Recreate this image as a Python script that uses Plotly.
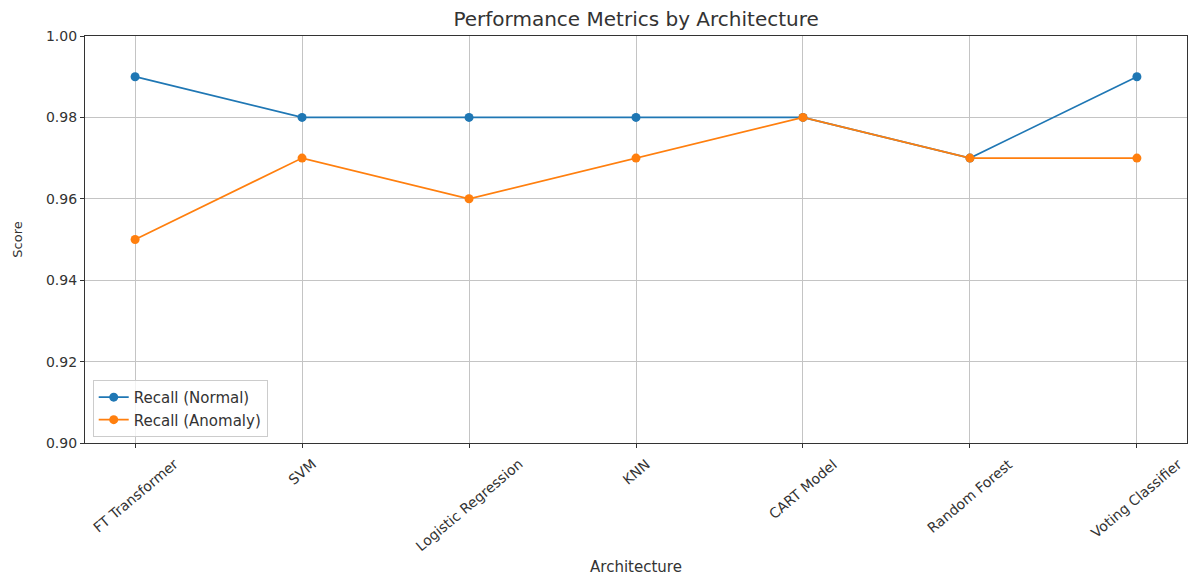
import plotly.graph_objects as go

architectures = ["FT Transformer", "SVM", "Logistic Regression", "KNN",
                 "CART Model", "Random Forest", "Voting Classifier"]
recall_normal = [0.99, 0.98, 0.98, 0.98, 0.98, 0.97, 0.99]
recall_anomaly = [0.95, 0.97, 0.96, 0.97, 0.98, 0.97, 0.97]
y_ticks = [0.90, 0.92, 0.94, 0.96, 0.98, 1.00]

xs = list(range(len(architectures)))
fig = go.Figure()
fig.add_trace(go.Scatter(x=xs, y=recall_normal, mode="lines+markers",
                         name="Recall (Normal)",
                         line=dict(color="#1f77b4", width=1.7),
                         marker=dict(color="#1f77b4", size=9)))
fig.add_trace(go.Scatter(x=xs, y=recall_anomaly, mode="lines+markers",
                         name="Recall (Anomaly)",
                         line=dict(color="#ff7f0e", width=1.7),
                         marker=dict(color="#ff7f0e", size=9)))

# rotated category labels centred under each tick (matplotlib style)
annotations = []
for xi, lab in zip(xs, architectures):
    annotations.append(dict(x=xi, xref="x", y=0, yref="paper", text=lab,
                            showarrow=False, textangle=-40, xanchor="center",
                            yanchor="top", yshift=-10,
                            font=dict(size=14, color="#333333")))

fig.update_layout(
    width=1189, height=576,
    margin=dict(l=85, r=2, t=36, b=133),
    paper_bgcolor="white", plot_bgcolor="white",
    font=dict(family="DejaVu Sans", size=14, color="#333333"),
    title=dict(text="Performance Metrics by Architecture", x=0.535, xanchor="center",
               y=1 - 19/576, yanchor="middle", font=dict(size=20, color="#333333")),
    showlegend=True,
    legend=dict(x=0.007, y=0.015, xanchor="left", yanchor="bottom",
                bgcolor="rgba(255,255,255,0.8)", bordercolor="#cccccc", borderwidth=1,
                font=dict(size=15), tracegroupgap=0, itemwidth=30),
    annotations=annotations,
    xaxis=dict(range=[-0.3, 6.3], tickmode="array", tickvals=xs,
               ticktext=[""] * len(xs),
               showgrid=True, gridcolor="#c4c4c4", gridwidth=1,
               showline=True, linecolor="#333333", linewidth=1.3, mirror=True,
               ticks="outside", ticklen=4, tickcolor="#333333", zeroline=False,
               title=dict(text="Architecture", standoff=113, font=dict(size=15))),
    yaxis=dict(range=[0.90, 1.00], tickmode="array", tickvals=y_ticks,
               ticktext=[f"{v:.2f}" for v in y_ticks],
               showgrid=True, gridcolor="#c4c4c4", gridwidth=1,
               showline=True, linecolor="#333333", linewidth=1.3, mirror=True,
               ticks="outside", ticklen=4, tickcolor="#333333", zeroline=False,
               title=dict(text="Score", standoff=20, font=dict(size=13))),
)
fig.write_html("out.html")
